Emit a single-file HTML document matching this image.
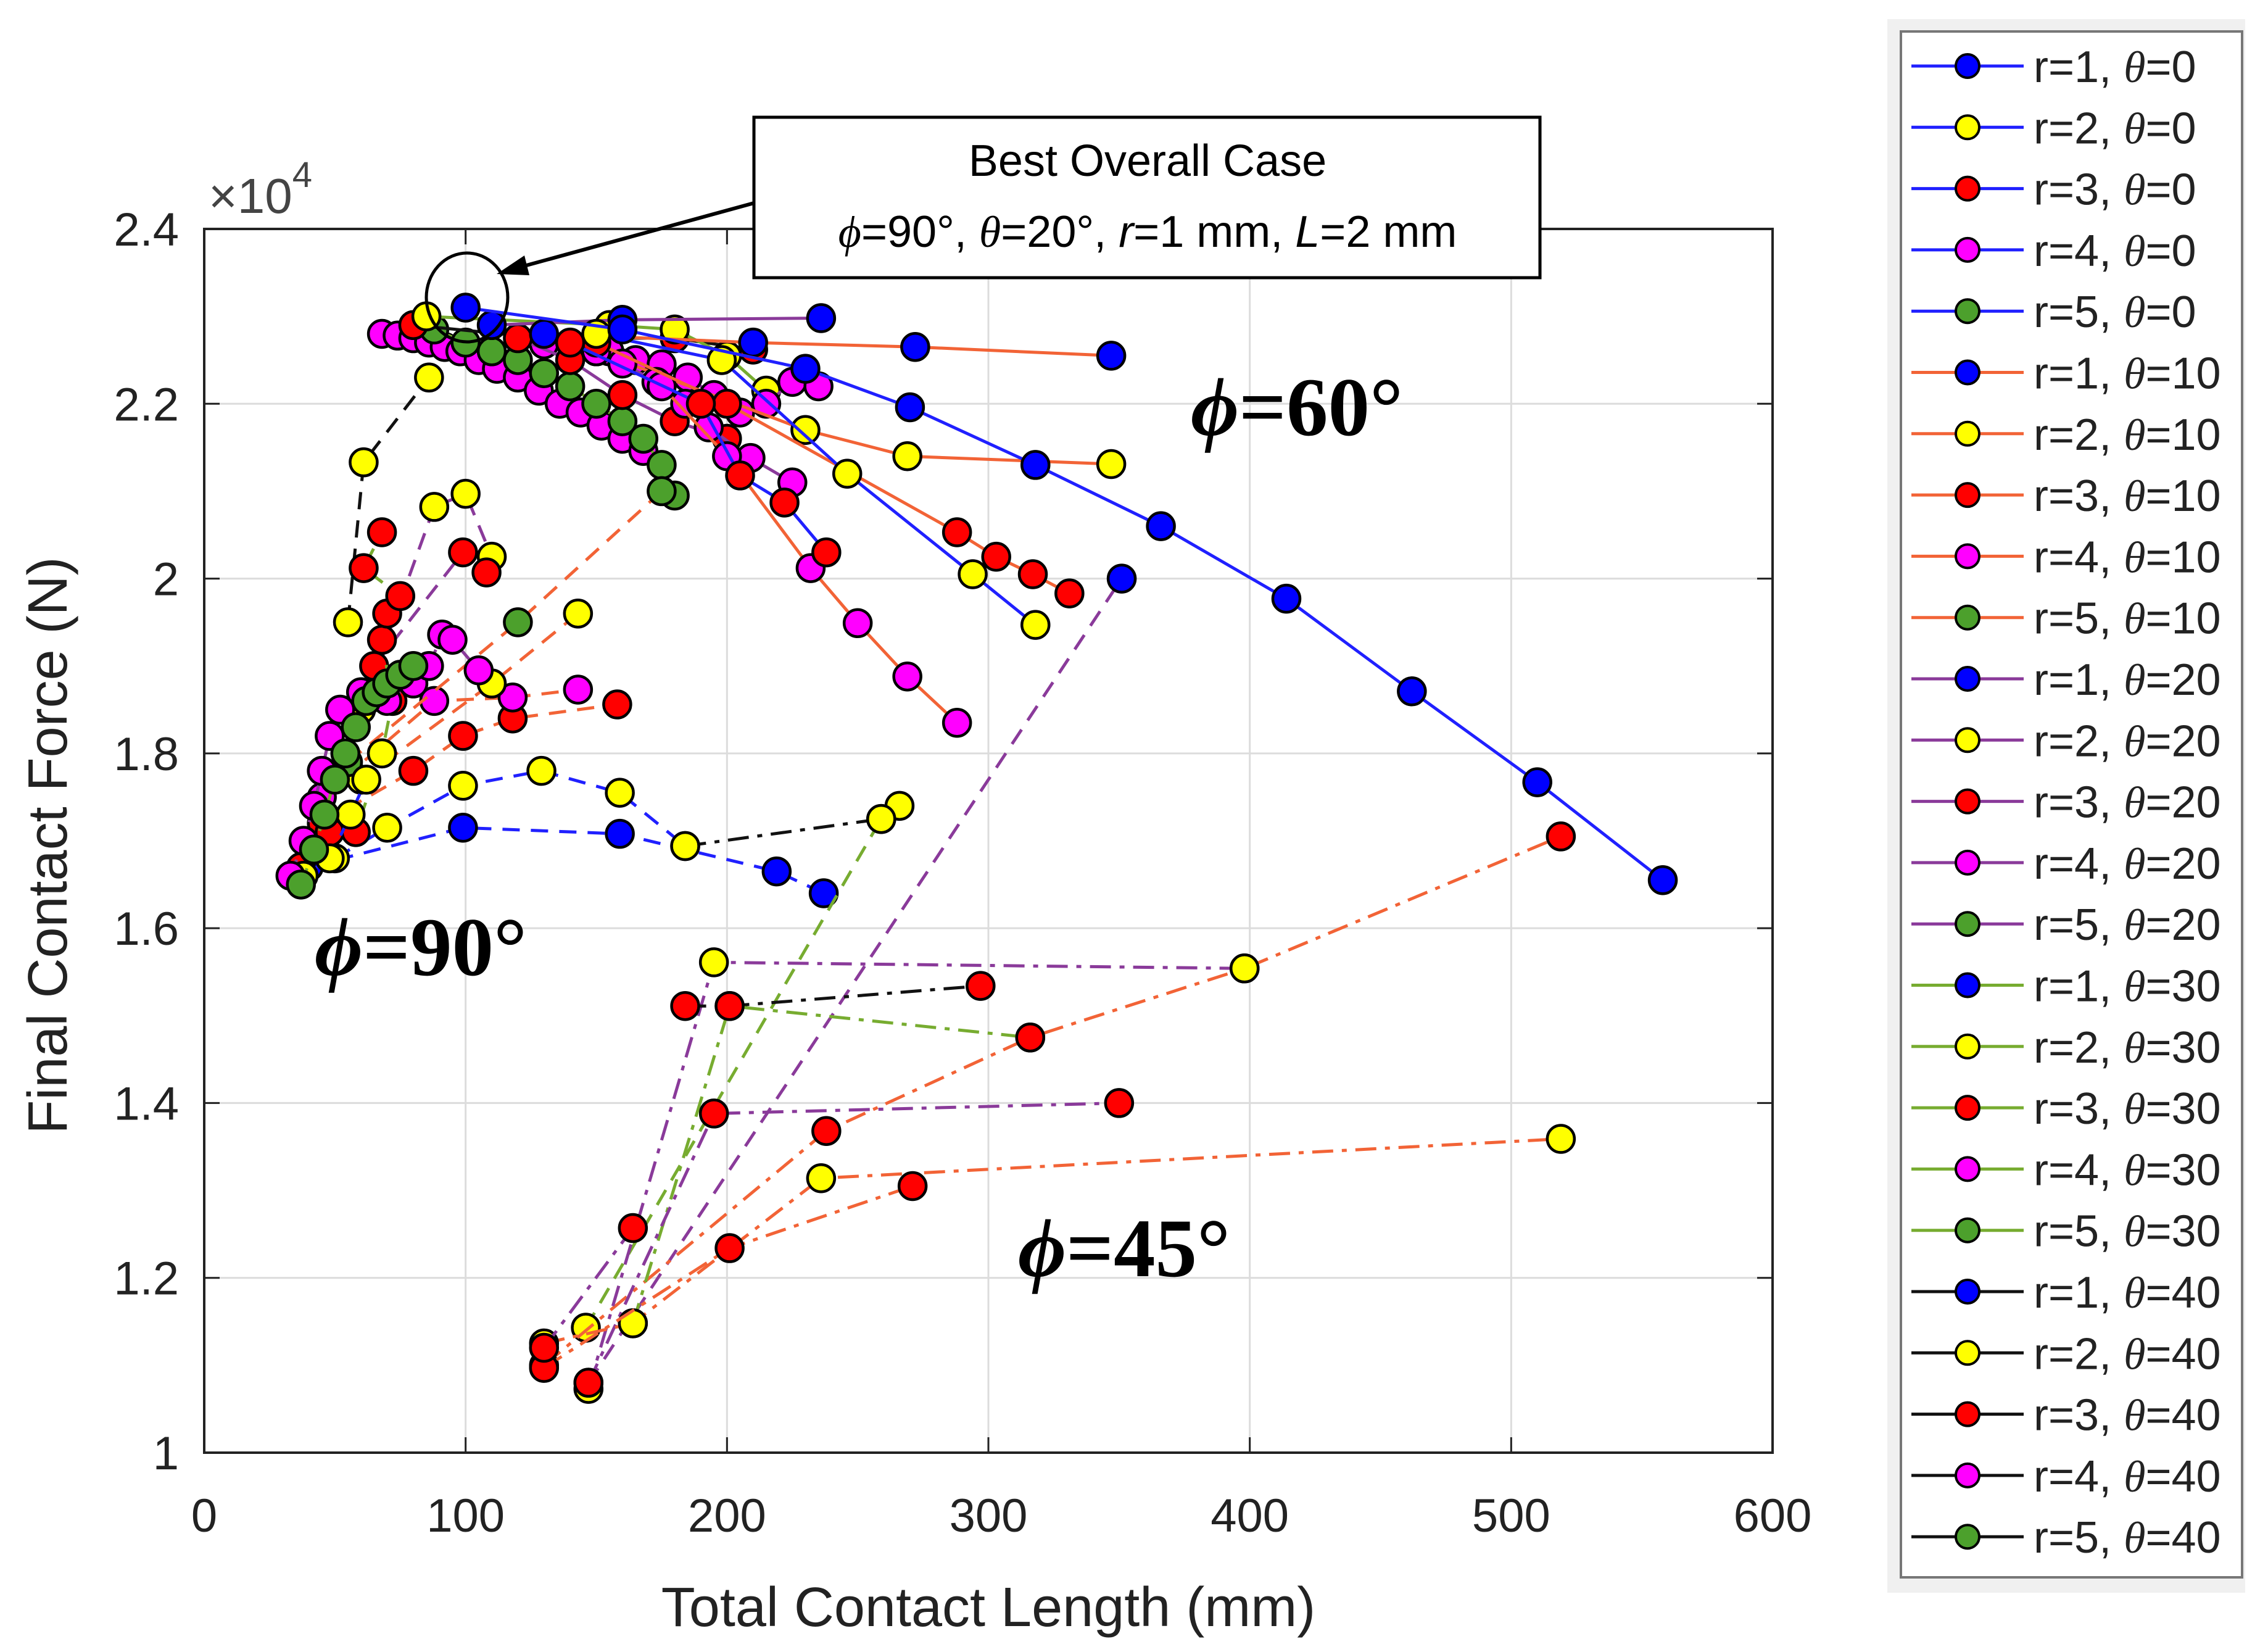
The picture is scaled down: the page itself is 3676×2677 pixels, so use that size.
<!DOCTYPE html>
<html><head><meta charset="utf-8"><style>
html,body{margin:0;padding:0;background:#fff;}
svg{display:block;}
</style></head><body>
<svg id="chart" width="3676" height="2677" viewBox="0 0 3676 2677" xmlns="http://www.w3.org/2000/svg" font-family="Liberation Sans, sans-serif">
<rect width="3676" height="2677" fill="#fff"/>
<g id="grid"></g>
<g id="series"></g>
<rect x="331" y="371" width="2542" height="1983" fill="none" stroke="#222" stroke-width="4"/>
<g id="ticks"></g>
<text x="338" y="345" font-size="80" fill="#444">×10<tspan font-size="58" dy="-42">4</tspan></text>
<text x="1602" y="2635" font-size="90" text-anchor="middle" fill="#222">Total Contact Length (mm)</text>
<text transform="translate(108,1370) rotate(-90)" font-size="90" text-anchor="middle" fill="#222">Final Contact Force (N)</text>
<g font-family="Liberation Serif, serif" font-weight="bold" font-size="135"><text x="1930" y="705"><tspan font-style="italic">ϕ</tspan>=60°</text></g>
<g font-family="Liberation Serif, serif" font-weight="bold" font-size="135"><text x="510" y="1580"><tspan font-style="italic">ϕ</tspan>=90°</text></g>
<g font-family="Liberation Serif, serif" font-weight="bold" font-size="135"><text x="1650" y="2068"><tspan font-style="italic">ϕ</tspan>=45°</text></g>
<g>
<rect x="1222" y="190" width="1274" height="260" fill="#fff" stroke="#000" stroke-width="5"/>
<text x="1860" y="285" font-size="72" text-anchor="middle">Best Overall Case</text>
<text x="1860" y="400" font-size="72" text-anchor="middle"><tspan font-style="italic" font-family="Liberation Serif, serif">ϕ</tspan>=90°, <tspan font-style="italic" font-family="Liberation Serif, serif">θ</tspan>=20°, <tspan font-style="italic">r</tspan>=1 mm, <tspan font-style="italic">L</tspan>=2 mm</text>
<ellipse cx="757" cy="482" rx="66" ry="72" fill="none" stroke="#000" stroke-width="5"/>
<line x1="1222" y1="329" x2="835" y2="435" stroke="#000" stroke-width="6"/>
<polygon points="805,444 850,414 858,446" fill="#000"/>
</g>
<rect x="3059" y="31" width="580" height="2550" fill="#f0f0f0"/>
<rect x="3081" y="51" width="553" height="2505" fill="#fff" stroke="#777" stroke-width="4"/>
<g id="legend"></g>
</svg>
<script>
const xTicks=[0,100,200,300,400,500,600];
const yTicks=[1,1.2,1.4,1.6,1.8,2,2.2,2.4];
const yTickLabels=["1","1.2","1.4","1.6","1.8","2","2.2","2.4"];
const rVals=[1,2,3,4,5];
const thetaVals=[0,10,20,30,40];
const markerColors=["#0000ff","#ffff00","#ff0000","#ff00ff","#4ca02c"];
const thetaColors=["#2020ff","#f26336","#8a3a9a","#77ac30","#111111"];

// phi=60 (solid)
const a_x=[100,160,230,270,318,366,414,462,510,558];
const a_y=[2.31,2.285,2.24,2.196,2.13,2.06,1.977,1.871,1.767,1.655];
const b_x=[150,198,246,294,318];
const b_y=[2.28,2.25,2.12,2.005,1.947];
const c_x=[140,190,205,222,238];
const c_y=[2.27,2.2,2.118,2.087,2.03];
const d_x=[150,200,288,303,317,331];
const d_y=[2.27,2.2,2.053,2.025,2.005,1.983];
const e_x=[175,200,232,250,269,288];
const e_y=[2.22,2.14,2.012,1.949,1.888,1.835];
const f_x=[150,230,269,347];
const f_y=[2.26,2.17,2.14,2.131];
const g_x=[130,210,272,347];
const g_y=[2.28,2.27,2.265,2.255];
const h_x=[110,160,236];
const h_y=[2.29,2.296,2.298];
const i_x=[150,160,173,184,193,209,225];
const i_y=[2.26,2.246,2.225,2.2,2.173,2.138,2.11];
const j_x=[88,100,110,120,130,140,150,160,168,175,180];
const j_y=[2.285,2.27,2.26,2.25,2.235,2.22,2.2,2.18,2.16,2.13,2.095];
const k_x=[68,74,80,86,92,98,105,112,120,128,136,144,152,160,168];
const k_y=[2.28,2.278,2.275,2.27,2.265,2.26,2.25,2.24,2.23,2.215,2.2,2.19,2.175,2.16,2.146];
const l_x=[80,130,180,210];
const l_y=[2.29,2.275,2.275,2.262];
const m_x=[85,155,180,200,215];
const m_y=[2.3,2.29,2.285,2.255,2.215];
const n_x=[130,155,165,175,185,195,205,215,225,235];
const n_y=[2.268,2.26,2.25,2.245,2.23,2.21,2.19,2.2,2.225,2.22];
const o_x=[120,140,160,180,200];
const o_y=[2.275,2.25,2.21,2.18,2.16];

// phi=90 (dashed)
const p_x=[40,99,159,219,237];
const p_y=[1.67,1.715,1.708,1.665,1.64];
const q_x=[50,70,99,129,159,184];
const q_y=[1.68,1.715,1.763,1.78,1.755,1.694];
const q2_x=[184,259,266];
const q2_y=[1.694,1.725,1.74];
const s_x=[45,80,99,118,158];
const s_y=[1.72,1.78,1.82,1.84,1.856];
const t_x=[45,88,118,143];
const t_y=[1.75,1.86,1.864,1.873];
const u_x=[60,110,143];
const u_y=[1.77,1.88,1.96];
const v_x=[55,120,175];
const v_y=[1.79,1.95,2.1];
const w_x=[60,88,100,110];
const w_y=[1.85,2.082,2.097,2.025];
const w2_x=[55,61,86];
const w2_y=[1.95,2.133,2.23];
const z_x=[65,99,108];
const z_y=[1.9,2.03,2.007];
const gg_x=[37,42,46,50,54,58,62,66,70,75,80];
const gg_y=[1.65,1.69,1.73,1.77,1.8,1.83,1.86,1.87,1.88,1.89,1.9];
const mm_x=[33,38,42,45,48,52,60,70,80,86,91,95,105];
const mm_y=[1.66,1.7,1.74,1.78,1.82,1.85,1.87,1.86,1.88,1.9,1.936,1.93,1.895];
const rr_x=[37,48,58,68,72,68,70,75,61,68];
const rr_y=[1.67,1.71,1.71,1.8,1.86,1.93,1.96,1.98,2.012,2.053];
const yy_x=[38,48,56,62,68];
const yy_y=[1.66,1.68,1.73,1.77,1.8];

// phi=45 (dash-dot)
const A_x=[130,238,316,398,519];
const A_y=[1.1,1.368,1.475,1.554,1.705];
const B_x=[147,195,398];
const B_y=[1.073,1.561,1.554];
const C_x=[184,201,297];
const C_y=[1.511,1.511,1.534];
const D_x=[164,201,316];
const D_y=[1.148,1.511,1.475];
const E_x=[147,195,350];
const E_y=[1.08,1.388,1.4];
const F_x=[130,164,236,519];
const F_y=[1.125,1.148,1.314,1.359];
const G_x=[130,201,271];
const G_y=[1.097,1.234,1.305];
const H_x=[147,351];
const H_y=[1.08,2.0];
const I_x=[146,259];
const I_y=[1.143,1.725];
const J_x=[130,164];
const J_y=[1.12,1.257];

const X0=331,X1=2873,Y0=2354,Y1=371;
function X(v){return X0+(v-0)*(X1-X0)/600;}
function Y(v){return Y0-(v-1)*(Y0-Y1)/1.4;}
const NS="http://www.w3.org/2000/svg";
function mk(t,attrs,parent){const e=document.createElementNS(NS,t);for(const k in attrs)e.setAttribute(k,attrs[k]);parent.appendChild(e);return e;}

const grid=document.getElementById('grid');
const ticks=document.getElementById('ticks');
xTicks.forEach((t,i)=>{
  const gl=mk('line',{x1:X(t),x2:X(t),y1:Y1,y2:Y0,stroke:'#dcdcdc','stroke-width':3},grid);
  
  
  mk('line',{x1:X(t),x2:X(t),y1:Y0,y2:Y0-25,stroke:'#222','stroke-width':3},ticks);
  mk('line',{x1:X(t),x2:X(t),y1:Y1,y2:Y1+25,stroke:'#222','stroke-width':3},ticks);
  const tx=mk('text',{x:X(t),y:2482,'font-size':76,'text-anchor':'middle',fill:'#222'},ticks);
  tx.textContent=String(t);
  
  
});
yTicks.forEach((t,i)=>{
  const gl=mk('line',{x1:X0,x2:X1,y1:Y(t),y2:Y(t),stroke:'#dcdcdc','stroke-width':3},grid);
  
  
  mk('line',{x1:X0,x2:X0+25,y1:Y(t),y2:Y(t),stroke:'#222','stroke-width':3},ticks);
  mk('line',{x1:X1,x2:X1-25,y1:Y(t),y2:Y(t),stroke:'#222','stroke-width':3},ticks);
  const tx=mk('text',{x:290,y:Y(t)+27,'font-size':76,'text-anchor':'end',fill:'#222'},ticks);
  tx.textContent=yTickLabels[i];
  
  
});

const S="none",DA="28,18",DD="34,14,8,14";
const seriesList=[
 [k_x,k_y,2,3,S],[j_x,j_y,3,4,S],[l_x,l_y,4,2,S],[m_x,m_y,3,1,S],[n_x,n_y,2,3,S],[o_x,o_y,2,2,S],
 [h_x,h_y,2,0,S],[g_x,g_y,1,0,S],[f_x,f_y,1,1,S],[i_x,i_y,2,3,S],[e_x,e_y,1,3,S],[d_x,d_y,1,2,S],
 [c_x,c_y,0,2,S],[b_x,b_y,0,1,S],[a_x,a_y,0,0,S],
 [p_x,p_y,0,0,DA],[q_x,q_y,0,1,DA],[q2_x,q2_y,4,1,DD],[s_x,s_y,1,2,DA],[t_x,t_y,1,3,DA],[u_x,u_y,1,1,DA],
 [v_x,v_y,1,4,DA],[w_x,w_y,2,1,DA],[w2_x,w2_y,4,1,DA],[z_x,z_y,2,2,DA],[rr_x,rr_y,3,2,DA],[yy_x,yy_y,0,1,DA],
 [mm_x,mm_y,2,3,DA],[gg_x,gg_y,3,4,DA],
 [H_x,H_y,2,0,DA],[I_x,I_y,3,1,DA],[A_x,A_y,1,2,DD],[B_x,B_y,2,1,DD],[C_x,C_y,4,2,DD],[D_x,D_y,3,2,DD],
 [E_x,E_y,2,2,DD],[F_x,F_y,1,1,DD],[G_x,G_y,1,2,DD],[J_x,J_y,2,2,DD]
];
const sg=document.getElementById('series');
seriesList.forEach((s,si)=>{
  const [xs,ys,lc,mc,dash]=s;
  const g=mk('g',{},sg);
  
  
  const pts=xs.map((x,i)=>X(x)+','+Y(ys[i])).join(' ');
  const pl=mk('polyline',{points:pts,fill:'none',stroke:thetaColors[lc],'stroke-width':5,'stroke-dasharray':dash},g);
  
  
  xs.forEach((x,i)=>{
    const c=mk('circle',{cx:X(x),cy:Y(ys[i]),r:22,fill:markerColors[mc],stroke:'#000','stroke-width':4.5},g);
    
    
  });
});

const lg=document.getElementById('legend');
let idx=0;
thetaVals.forEach((th,ti)=>{
  rVals.forEach((r,ri)=>{
    const y=107+idx*99.3;
    const e=mk('g',{},lg);
    
    
    mk('line',{x1:3098,x2:3280,y1:y,y2:y,stroke:thetaColors[ti],'stroke-width':5},e);
    mk('circle',{cx:3189,cy:y,r:19,fill:markerColors[ri],stroke:'#000','stroke-width':4},e);
    const t=mk('text',{x:3296,y:y+26,'font-size':72,fill:'#222'},e);
    t.innerHTML='r='+r+', <tspan font-family="Liberation Serif, serif" font-style="italic">θ</tspan>='+th;
    idx++;
  });
});
</script>
</body></html>
